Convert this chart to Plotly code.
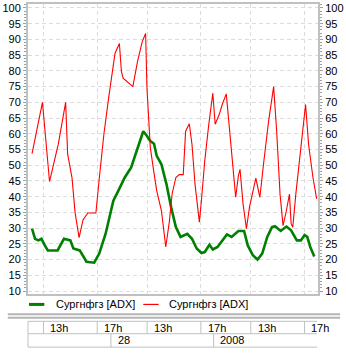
import plotly.graph_objects as go

# ADX values by bar index (green and red series)
green_x = [0.9, 1.8, 2.8, 3.7, 4.7, 5.6, 8.5, 10.4, 12.3, 13.2, 15.1, 17.1, 19.4,
           20.9, 22.8, 25.1, 26.6, 28.5, 30.4, 32.3, 34.0, 35.1, 36.1, 37.2, 38.0,
           39.4, 40.9, 42.3, 43.7, 45.1, 47.1, 48.5, 49.9, 51.3, 52.3, 53.7, 54.7,
           56.1, 57.5, 58.9, 60.3, 62.3, 64.0, 65.1, 66.6, 68.0, 69.4, 70.9, 72.3,
           73.2, 74.9, 76.6, 78.0, 79.7, 80.9, 82.0, 82.8, 83.7, 84.9]
green_y = [29.8, 26.6, 26.1, 26.6, 24.5, 22.9, 22.9, 26.6, 26.1, 23.5, 22.9, 19.3, 19.0,
           21.9, 28.2, 38.7, 41.9, 46.1, 49.3, 55.6, 60.8, 59.3, 57.7, 56.8, 53.0,
           50.3, 44.0, 36.6, 30.3, 27.2, 28.2, 26.6, 23.5, 22.1, 22.4, 24.7, 23.2,
           24.0, 26.1, 28.0, 27.2, 29.1, 29.1, 24.5, 21.4, 20.0, 21.9, 27.2, 30.3,
           30.6, 29.1, 30.5, 29.3, 26.1, 26.1, 27.8, 27.2, 24.0, 21.0]

red_x = [0.9, 4.0, 6.1, 8.7, 10.9, 11.5, 12.8, 13.7, 14.9, 16.1, 17.5, 19.9, 20.9,
         22.3, 23.7, 25.6, 26.9, 27.5, 28.0, 30.9, 32.3, 33.7, 34.7, 35.1, 35.6,
         36.1, 37.1, 38.0, 39.4, 40.7, 41.8, 42.6, 43.7, 44.7, 45.9, 46.6, 47.7,
         48.5, 49.4, 50.7, 51.3, 52.3, 53.5, 54.7, 55.4, 56.6, 57.5, 58.7, 59.9,
         60.9, 61.5, 62.3, 62.8, 63.1, 63.7, 64.7, 65.6, 67.5, 68.7, 69.9, 71.3,
         72.8, 73.7, 74.7, 75.6, 76.6, 77.5, 78.0, 78.5, 79.4, 80.9, 82.3, 83.2,
         84.5, 85.6]
red_y = [53.7, 70.0, 44.8, 56.6, 70.0, 53.5, 46.0, 35.0, 27.0, 32.7, 34.8, 34.8, 45.7,
         60.0, 71.4, 85.6, 88.7, 79.8, 77.7, 75.0, 83.0, 89.3, 91.9, 74.5, 65.0,
         55.6, 48.2, 41.9, 35.6, 24.0, 32.4, 41.0, 46.1, 47.0, 47.0, 60.8, 63.2,
         56.6, 44.0, 31.9, 38.7, 51.4, 63.0, 72.9, 63.0, 66.1, 69.3, 72.7, 58.7,
         45.0, 39.8, 46.6, 48.7, 45.0, 37.7, 29.8, 36.6, 45.9, 39.8, 51.4, 64.0,
         75.0, 60.8, 40.8, 30.8, 35.6, 40.8, 31.4, 30.3, 40.8, 56.6, 69.3, 56.6,
         46.1, 39.3]

series_name = "Сургнфгз [ADX]"

# time scale: hour marks and day starts (bar index)
hour_ticks = [4.29, 20.29, 35.14, 51.14, 66.0, 82.0]
hour_labels = ["13h", "17h", "13h", "17h", "13h", "17h"]
day_starts = [24.37, 54.94]
day_labels = ["28", "2008"]

W, H = 346, 353
L, R, T, B = 21, 23, 2, 59
X_RANGE = [-0.3, 86.0]
Y_RANGE = [9.05, 101.26]

FONT = "Liberation Sans, Arial, sans-serif"
GREEN = "#008000"
RED = "#ff0000"
FRAME = "#c0c0c0"
GRID = "#dcdcdc"
TICK = "#a0a0a0"

PW = W - L - R
PH = H - T - B


def px_x(px):
    return (px - L) / PW


def px_y(py):
    return (H - B - py) / PH


def k_x(k):
    return (k - X_RANGE[0]) / (X_RANGE[1] - X_RANGE[0])


fig = go.Figure()
fig.add_trace(go.Scatter(x=green_x, y=green_y, mode="lines",
                         line=dict(color=GREEN, width=2.6), hoverinfo="skip"))
fig.add_trace(go.Scatter(x=red_x, y=red_y, mode="lines",
                         line=dict(color=RED, width=1.1), hoverinfo="skip"))
# carries the right-hand value scale
fig.add_trace(go.Scatter(x=[None], y=[None], yaxis="y2", showlegend=False))

yaxis_common = dict(
    range=Y_RANGE, tickmode="linear", tick0=10, dtick=5,
    ticks="outside", ticklen=3, tickcolor=TICK, tickwidth=1,
    showline=True, linecolor=FRAME, linewidth=2, zeroline=False,
    tickfont=dict(family=FONT, size=11, color="black"),
    minor=dict(dtick=1, tick0=10, ticks="outside", ticklen=2, tickcolor=TICK,
               tickwidth=1, showgrid=False),
    fixedrange=True,
)

fig.update_layout(
    width=W, height=H, autosize=False,
    margin=dict(l=L, r=R, t=T, b=B, pad=0),
    paper_bgcolor="white", plot_bgcolor="white",
    showlegend=False,
    xaxis=dict(range=X_RANGE, tickmode="array", tickvals=hour_ticks,
               showticklabels=False, ticks="", showgrid=True, gridcolor=GRID,
               griddash="4px,3px", gridwidth=1, showline=True, linecolor=FRAME,
               linewidth=2, mirror=True, zeroline=False, fixedrange=True),
    yaxis=dict(**yaxis_common, side="left", showgrid=True, gridcolor=GRID,
               griddash="4px,3px", gridwidth=1),
    yaxis2=dict(**yaxis_common, side="right", overlaying="y", showgrid=False),
)

shapes = []
annotations = []

# legend
legend_y = 304.5
for x0, color, width, text_x in [(22, GREEN, 3, 48), (141, RED, 1.2, 166)]:
    shapes.append(dict(type="line", xref="paper", yref="paper",
                       x0=px_x(x0), x1=px_x(x0 + 16), y0=px_y(legend_y), y1=px_y(legend_y),
                       line=dict(color=color, width=width)))
    annotations.append(dict(xref="paper", yref="paper", x=px_x(text_x), y=px_y(legend_y),
                            text=series_name, showarrow=False, xanchor="left",
                            yanchor="middle", font=dict(family=FONT, size=11, color="black")))

# double separator between chart and time scale
for sy in (314.5, 318.0):
    shapes.append(dict(type="line", xref="paper", yref="paper",
                       x0=px_x(0), x1=px_x(W), y0=px_y(sy), y1=px_y(sy),
                       line=dict(color="#b4b4b4", width=2)))

# time scale table
top_y, mid_y, bot_y = 321.5, 334.0, 347.5
left_p, right_p = 0.0, px_x(322)
for yy in (top_y, mid_y, bot_y):
    shapes.append(dict(type="line", xref="paper", yref="paper",
                       x0=left_p, x1=right_p, y0=px_y(yy), y1=px_y(yy),
                       line=dict(color=FRAME, width=1)))
shapes.append(dict(type="line", xref="paper", yref="paper",
                   x0=left_p, x1=left_p, y0=px_y(top_y), y1=px_y(bot_y),
                   line=dict(color=FRAME, width=1)))
for k, lab in zip(hour_ticks, hour_labels):
    shapes.append(dict(type="line", xref="paper", yref="paper",
                       x0=k_x(k), x1=k_x(k), y0=px_y(top_y), y1=px_y(mid_y),
                       line=dict(color=FRAME, width=1)))
    annotations.append(dict(xref="paper", yref="paper", x=k_x(k) + px_x(L + 5),
                            y=px_y((top_y + mid_y) / 2), text=lab, showarrow=False,
                            xanchor="left", yanchor="middle",
                            font=dict(family=FONT, size=11, color="black")))
for k, lab in zip(day_starts, day_labels):
    shapes.append(dict(type="line", xref="paper", yref="paper",
                       x0=k_x(k), x1=k_x(k), y0=px_y(mid_y), y1=px_y(bot_y),
                       line=dict(color=FRAME, width=1)))
    annotations.append(dict(xref="paper", yref="paper", x=k_x(k) + px_x(L + 5),
                            y=px_y((mid_y + bot_y) / 2), text=lab, showarrow=False,
                            xanchor="left", yanchor="middle",
                            font=dict(family=FONT, size=11, color="black")))

fig.update_layout(shapes=shapes, annotations=annotations)
fig.write_html("out.html", config={"displayModeBar": False})
